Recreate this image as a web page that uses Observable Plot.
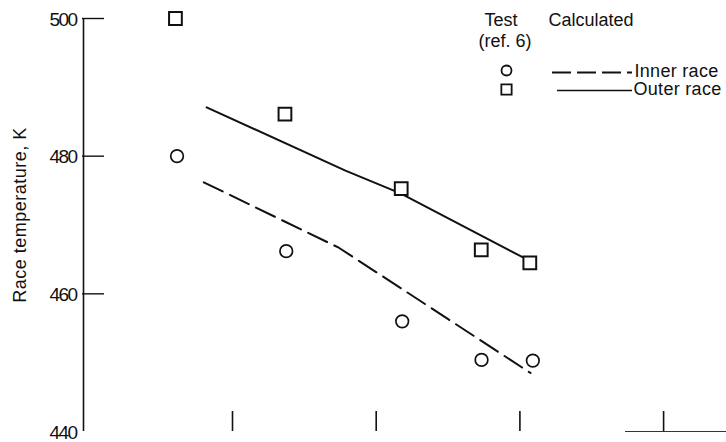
<!DOCTYPE html>
<html>
<head>
<meta charset="utf-8">
<script src="https://cdn.jsdelivr.net/npm/d3@7"></script>
<script src="https://cdn.jsdelivr.net/npm/@observablehq/plot@0.6"></script>
<style>
  html, body { margin: 0; padding: 0; background: #fff; }
  #chart { width: 726px; height: 442px; }
  .ytl text { letter-spacing: -1.6px; }
  .ylab text { letter-spacing: 0.5px; }
  .racelab text { letter-spacing: 0.3px; }
</style>
</head>
<body>
<div id="chart"></div>
<script>
// ---- data ----
const yTicks = [440, 460, 480, 500];
const xTicks = [1, 2, 3, 4];

// Test (ref. 6) measurements
const outerTestX = [0.603, 1.365, 2.174, 2.731, 3.069];
const outerTestY = [500.0, 486.1, 475.3, 466.4, 464.5];
const innerTestX = [0.614, 1.374, 2.181, 2.733, 3.090];
const innerTestY = [480.0, 466.2, 456.0, 450.4, 450.3];

// Calculated curves
const outerCalcX = [0.820, 1.786, 2.169, 3.039];
const outerCalcY = [487.1, 477.9, 474.6, 465.1];
const innerCalcX = [0.800, 1.740, 3.074];
const innerCalcY = [476.2, 466.7, 448.5];

const yLabel = "Race temperature, K";
const legendHead = ["Test", "Calculated", "(ref. 6)"];
const seriesNames = ["Inner race", "Outer race"];

// ---- tables ----
const zip = (xs, ys) => xs.map((x, i) => ({x, y: ys[i]}));
const outerTest = zip(outerTestX, outerTestY);
const innerTest = zip(innerTestX, innerTestY);
const outerCalc = zip(outerCalcX, outerCalcY);
const innerCalc = zip(innerCalcX, innerCalcY);

// ---- layout ----
const W = 726, H = 442;
const mL = 82, mR = 0, mT = 18, mB = 11;
const pxPerX = 143.7, x0px = 88.3;            // x = 0 at 88.3 px
const xDom = [(mL - x0px) / pxPerX, (W - mR - x0px) / pxPerX];
const px = p => (p - x0px) / pxPerX;          // pixel -> x units (legend placement)
const pyv = p => 500 - (p - mT) * 60 / (H - mB - mT); // pixel -> y units

const bodyFont = "Liberation Sans, Arial, sans-serif";

const chart = Plot.plot({
  width: W, height: H,
  marginLeft: mL, marginRight: mR, marginTop: mT, marginBottom: mB,
  style: {background: "#fff", color: "#111"},
  x: {domain: xDom, axis: null},
  y: {domain: [440, 500], axis: null},
  marks: [
    // y axis line
    Plot.ruleX([xDom[0]], {y1: 440, y2: 500, stroke: "#111", strokeWidth: 1.6, dx: 1}),
    // inward y ticks (440 has none)
    Plot.ruleY(yTicks.filter(d => d > 440), {x1: xDom[0], x2: xDom[0] + 22 / pxPerX, stroke: "#111", strokeWidth: 1.4}),
    Plot.text(yTicks, {x: xDom[0], y: d => d, text: d => String(d), textAnchor: "end", dx: -6, dy: 1,
      fontSize: 19, fontFamily: bodyFont, fill: "#111", className: "ytl"}),
    // y label
    Plot.text([yLabel], {frameAnchor: "left", textAnchor: "middle", rotate: -90, dx: -62, dy: -10, text: d => d,
      fontSize: 18, fontFamily: bodyFont, fill: "#111", className: "ylab"}),
    // x ticks (upward, no labels)
    Plot.ruleX(xTicks, {y1: 440, y2: 440 + 20 * 60 / (H - mB - mT), stroke: "#111", strokeWidth: 1.6}),
    // short fragment of the bottom axis line visible at right
    Plot.ruleY([440], {x1: px(625), x2: xDom[1], stroke: "#333", strokeWidth: 1.2}),

    // calculated curves
    Plot.line(outerCalc, {x: "x", y: "y", stroke: "#111", strokeWidth: 2}),
    Plot.line(innerCalc, {x: "x", y: "y", stroke: "#111", strokeWidth: 2, strokeDasharray: "21,8"}),

    // test points
    Plot.dot(outerTest, {x: "x", y: "y", symbol: "square", r: 7.2, stroke: "#111", strokeWidth: 2, fill: "#fff"}),
    Plot.dot(innerTest, {x: "x", y: "y", symbol: "circle", r: 6.3, stroke: "#111", strokeWidth: 1.7, fill: "#fff"}),

    // legend
    Plot.text([legendHead[0]], {x: px(500.5), y: pyv(20), text: d => d, fontSize: 18, fontFamily: bodyFont, fill: "#111"}),
    Plot.text([legendHead[1]], {x: px(548), y: pyv(20), text: d => d, textAnchor: "start", fontSize: 18, fontFamily: bodyFont, fill: "#111"}),
    Plot.text([legendHead[2]], {x: px(478), y: pyv(41), text: d => d, textAnchor: "start", fontSize: 18, fontFamily: bodyFont, fill: "#111"}),
    Plot.dot([seriesNames[0]], {x: px(506), y: pyv(70), symbol: "circle", r: 5, stroke: "#111", strokeWidth: 1.8, fill: "#fff"}),
    Plot.dot([seriesNames[1]], {x: px(506), y: pyv(89), symbol: "square", r: 5.8, stroke: "#111", strokeWidth: 1.8, fill: "#fff"}),
    Plot.ruleY([pyv(72)], {x1: px(552), x2: px(632), stroke: "#111", strokeWidth: 1.8, strokeDasharray: "19,6"}),
    Plot.ruleY([pyv(90)], {x1: px(557), x2: px(632), stroke: "#111", strokeWidth: 1.6}),
    Plot.text([seriesNames[0]], {x: px(634), y: pyv(70.5), text: d => d, textAnchor: "start", fontSize: 18, fontFamily: bodyFont, fill: "#111", className: "racelab"}),
    Plot.text([seriesNames[1]], {x: px(633), y: pyv(89), text: d => d, textAnchor: "start", fontSize: 18, fontFamily: bodyFont, fill: "#111", className: "racelab"})
  ]
});
document.getElementById("chart").appendChild(chart);
</script>
</body>
</html>
